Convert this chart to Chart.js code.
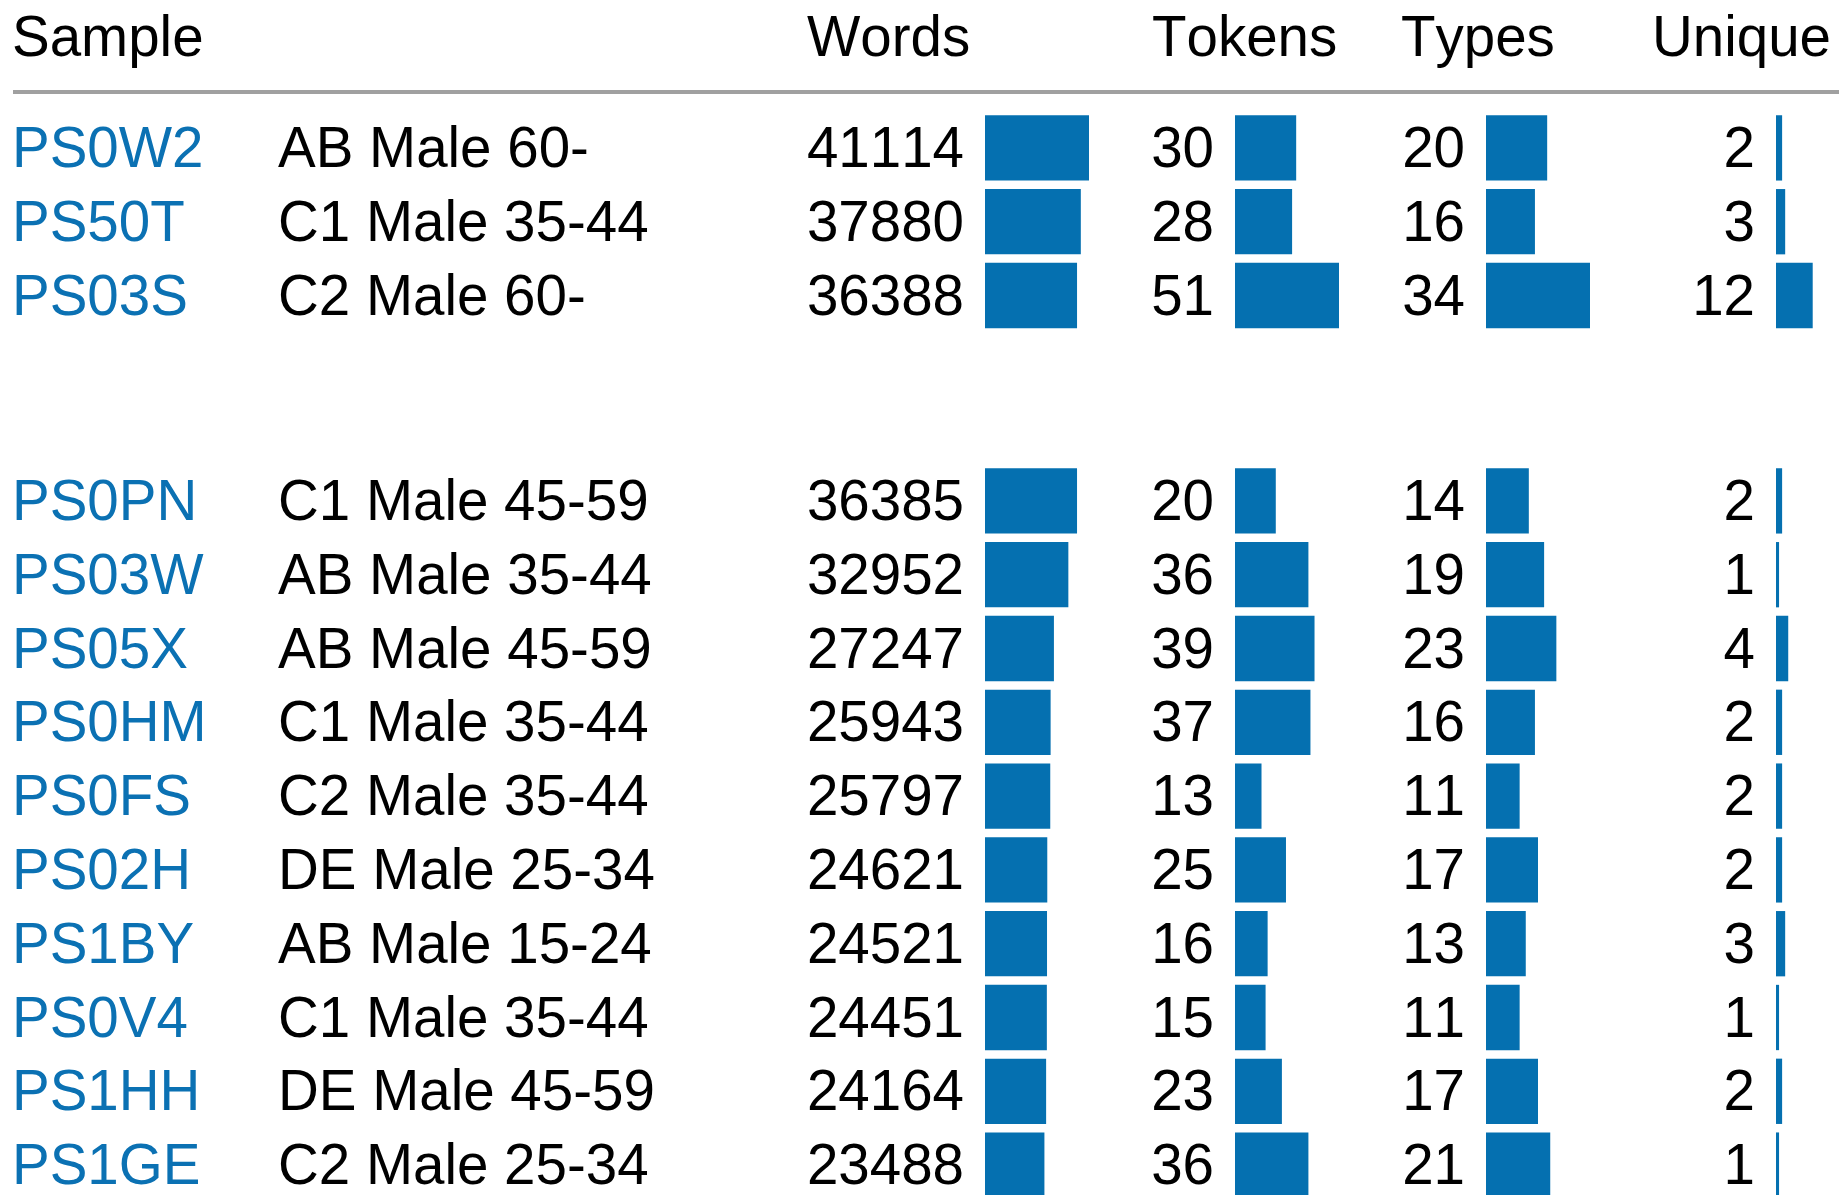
<!DOCTYPE html>
<html lang="en">
<head>
<meta charset="UTF-8">
<title>Samples</title>
<style>
  html, body { margin: 0; padding: 0; background: #fff; overflow: hidden; }
  body { width: 1839px; height: 1195px; position: relative;
         font-family: "Liberation Sans", Arial, Helvetica, sans-serif; font-size: 56.5px; color: #000;
         font-kerning: none; }
  .cell { position: absolute; height: 74px; line-height: 74px; white-space: nowrap; }
  .num { width: 200px; text-align: right; }
  .id { color: #0b71b3; }
  .rule { position: absolute; left: 13px; right: 0; top: 90px; height: 4px; background: #a0a0a0; }
  .bars { position: absolute; }
</style>
</head>
<body>
<div class="rule"></div>

<script src="https://cdn.jsdelivr.net/npm/chart.js"></script>
<script>
var headers = ["Sample", "Words", "Tokens", "Types", "Unique"];
var sampleIds = ["PS0W2", "PS50T", "PS03S", "PS0PN", "PS03W", "PS05X", "PS0HM", "PS0FS", "PS02H", "PS1BY", "PS0V4", "PS1HH", "PS1GE"];
var sampleInfo = ["AB Male 60-", "C1 Male 35-44", "C2 Male 60-", "C1 Male 45-59", "AB Male 35-44", "AB Male 45-59",
                  "C1 Male 35-44", "C2 Male 35-44", "DE Male 25-34", "AB Male 15-24", "C1 Male 35-44", "DE Male 45-59", "C2 Male 25-34"];
var words = [41114, 37880, 36388, 36385, 32952, 27247, 25943, 25797, 24621, 24521, 24451, 24164, 23488];
var tokens = [30, 28, 51, 20, 36, 39, 37, 13, 25, 16, 15, 23, 36];
var types = [20, 16, 34, 14, 19, 23, 16, 11, 17, 13, 11, 17, 21];
var unique = [2, 3, 12, 2, 1, 4, 2, 2, 2, 3, 1, 2, 1];
var groupSizes = [3, 10];

// layout
var rowH = 73.8;
var groupTops = [111, 464];
var headerLeft = [12, 807, 1152, 1401, 1652];
var idLeft = 12, infoLeft = 278;
var barW = 104;
var barColor = "#0570b0";

var columns = [
    { values: words, numRight: 964, barLeft: 985, max: Math.max.apply(null, words) },
    { values: tokens, numRight: 1214, barLeft: 1235, max: Math.max.apply(null, tokens) },
    { values: types, numRight: 1465, barLeft: 1486, max: Math.max.apply(null, types) },
    { values: unique, numRight: 1755, barLeft: 1776, max: Math.max.apply(null, types) }  // same scale as types
];

function addText(txt, left, top, cls) {
    var d = document.createElement("div");
    d.className = "cell " + (cls || "");
    d.style.left = left + "px";
    d.style.top = top + "px";
    d.textContent = txt;
    document.body.appendChild(d);
}

headers.forEach(function (h, i) { addText(h, headerLeft[i], 0); });

var start = 0;
groupSizes.forEach(function (n, g) {
    var top0 = groupTops[g];
    for (var i = 0; i < n; i++) {
        var r = start + i;
        var y = top0 + i * rowH;
        addText(sampleIds[r], idLeft, y, "id");
        addText(sampleInfo[r], infoLeft, y);
        columns.forEach(function (c) {
            addText(String(c.values[r]), c.numRight - 200, y, "num");
        });
    }

    columns.forEach(function (c) {
        var box = document.createElement("div");
        box.className = "bars";
        box.style.left = c.barLeft + "px";
        box.style.top = top0 + "px";
        box.style.width = barW + "px";
        box.style.height = (n * rowH) + "px";
        var cv = document.createElement("canvas");
        box.appendChild(cv);
        document.body.appendChild(box);

        new Chart(cv.getContext("2d"), {
            type: "bar",
            data: {
                labels: sampleIds.slice(start, start + n),
                datasets: [{
                    data: c.values.slice(start, start + n),
                    backgroundColor: barColor,
                    borderWidth: 0,
                    barPercentage: 0.885,
                    categoryPercentage: 1
                }]
            },
            options: {
                indexAxis: "y",
                responsive: true,
                maintainAspectRatio: false,
                animation: false,
                events: [],
                layout: { padding: 0 },
                plugins: { legend: { display: false }, tooltip: { enabled: false } },
                scales: {
                    x: { display: false, min: 0, max: c.max },
                    y: { display: false }
                }
            }
        });
    });
    start += n;
});
</script>
</body>
</html>
